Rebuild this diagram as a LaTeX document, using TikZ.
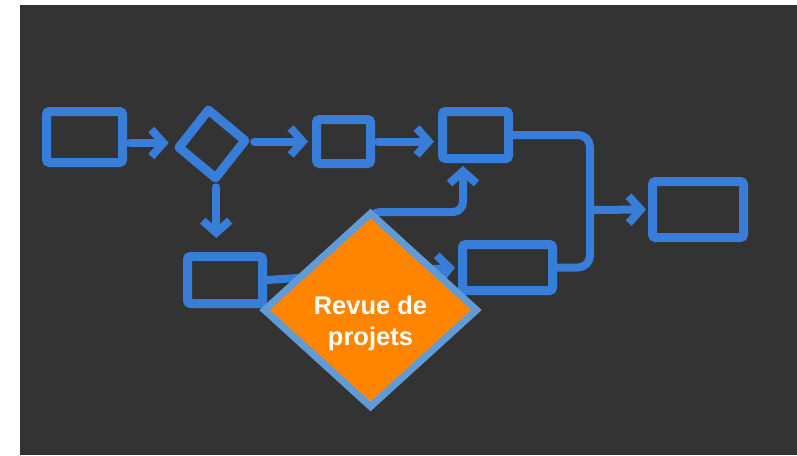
\documentclass[tikz,border=0pt]{standalone}
\usepackage{fontspec}
\setmainfont{Liberation Sans}
\usepackage{xcolor}
\usetikzlibrary{
    arrows.meta,
    shapes.geometric,
    positioning
}
\definecolor{slate}{RGB}{51,51,51}
\definecolor{flowblue}{RGB}{56,126,216}
\definecolor{revueorange}{RGB}{255,133,0}
\definecolor{revueedge}{RGB}{96,155,214}

\begin{document}
\begin{tikzpicture}[x=1pt, y=-1pt,
    box/.style={draw=flowblue, line width=9pt, rounded corners=3pt, inner sep=0pt},
    choice/.style={diamond, draw=flowblue, line width=9pt, line join=round, inner sep=0pt},
    link/.style={draw=flowblue, line width=8pt, line cap=round, line join=round},
    flow/.style={link, -{Straight Barb[length=12pt, width=27pt]}},
    revue/.style={diamond, draw=revueedge, fill=revueorange, line width=7pt, inner sep=0pt},
    revuetext/.style={text=white, align=center, font=\fontsize{25.5}{31}\selectfont\bfseries}]

    \useasboundingbox (0,0) rectangle (797,455);
    \fill[white] (0,0) rectangle (797,455);
    \fill[slate] (20,5) rectangle (797,455);

    \node[box, minimum width=76pt, minimum height=51pt] (start) at (84.5,137) {};
    \node[choice, minimum width=70pt, minimum height=72pt, rotate=6] (choix) at (212,144) {};
    \node[box, minimum width=54pt, minimum height=44pt] (etapeA) at (343.5,141.5) {};
    \node[box, minimum width=66pt, minimum height=47pt] (etapeB) at (475.5,135) {};
    \node[box, minimum width=75pt, minimum height=47pt] (etapeC) at (225,280) {};
    \node[box, minimum width=90pt, minimum height=46pt] (etapeD) at (507.5,267.5) {};
    \node[box, minimum width=91pt, minimum height=56pt] (fin) at (698,209.5) {};

    \coordinate (merge) at (590,210);
    \coordinate (split) at (370,276);
    \coordinate (turn) at (463,212);
    \coordinate (up) at (463,163);

    \draw[flow, shorten <=3pt, shorten >=4pt] ([yshift=-6pt]start.east) -- ([yshift=-6pt]start.east -| choix.west);
    \draw[flow, shorten <=3pt, shorten >=4pt] (choix.east |- etapeA.west) -- (etapeA.west);
    \draw[flow, shorten <=3pt, shorten >=4pt] (etapeA.east) -- (etapeA.east -| etapeB.west);
    \draw[flow, shorten <=3pt, shorten >=14pt] (choix.south) -- (choix.south |- etapeC.north);
    \draw[link, rounded corners=12pt] (etapeB.east) -| (merge) |- (etapeD.east);
    \draw[flow, shorten >=2pt] (merge) -- (fin.west);
    \draw[flow, shorten >=3pt] (etapeC.east) -- (etapeD.west);
    \draw[flow, rounded corners=10pt, shorten >=3pt] (split) |- (turn) -- (up);

    \node[revue, minimum width=215pt, minimum height=196pt] (revue) at (370.5,310) {};
    \node[revuetext] (revuelabel) at ([yshift=-13pt]revue.center) {Revue de\\projets};
\end{tikzpicture}
\end{document}
